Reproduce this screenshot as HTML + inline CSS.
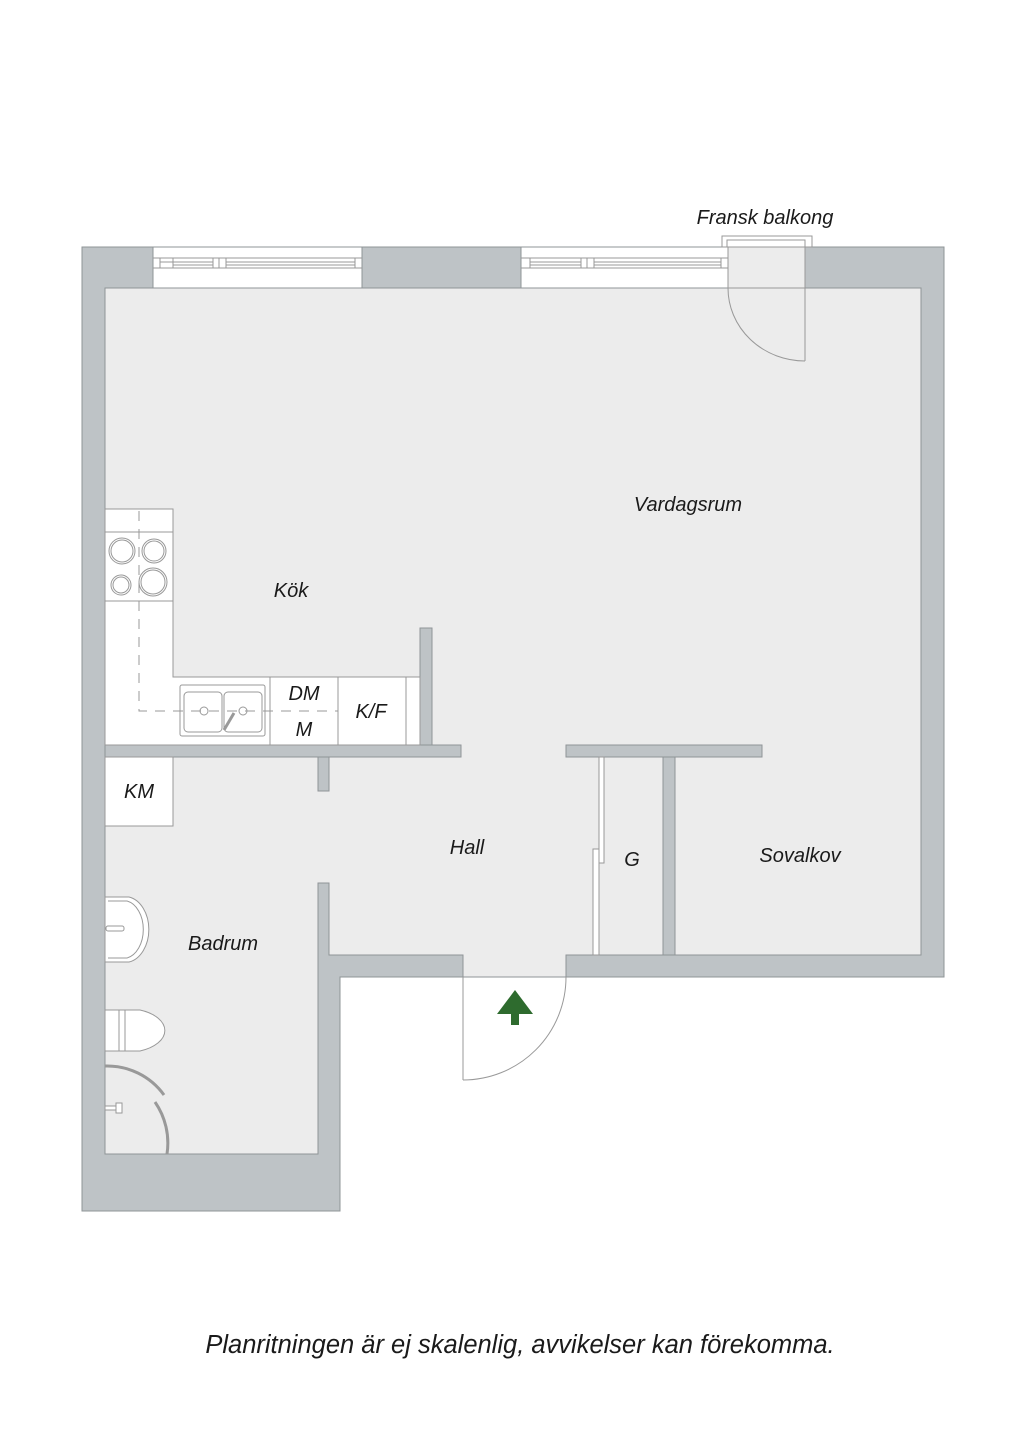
<!DOCTYPE html>
<html><head><meta charset="utf-8"><style>
html,body{margin:0;padding:0;background:#fff;}
svg{display:block;}
text{font-family:"Liberation Sans",sans-serif;font-style:italic;fill:#1a1a1a;}
</style></head><body>
<svg width="1024" height="1448" viewBox="0 0 1024 1448" xmlns="http://www.w3.org/2000/svg">
<g stroke="#8f9497" stroke-width="1">
<polygon points="82,247 944,247 944,977 340,977 340,1211 82,1211" fill="#bec3c6"/>
<polygon points="105,288 921,288 921,955 566,955 566,977 463,977 463,955 329,955 329,883 318,883 318,1154 105,1154" fill="#ececec"/>
<rect x="153" y="247" width="209" height="41" fill="#fff"/>
<rect x="521" y="247" width="207" height="41" fill="#fff"/>
</g>
<g stroke="#999" stroke-width="1" fill="none">
<line x1="153" y1="258" x2="362" y2="258"/><line x1="153" y1="268" x2="362" y2="268"/>
<line x1="160" y1="262" x2="173" y2="262"/><line x1="160" y1="258" x2="160" y2="268"/>
<line x1="173" y1="258" x2="173" y2="268"/><line x1="173" y1="262" x2="213" y2="262"/>
<line x1="173" y1="265" x2="213" y2="265"/><line x1="213" y1="258" x2="213" y2="268"/>
<line x1="219" y1="258" x2="219" y2="268"/><line x1="226" y1="258" x2="226" y2="268"/>
<line x1="226" y1="262" x2="355" y2="262"/><line x1="226" y1="265" x2="355" y2="265"/>
<line x1="355" y1="258" x2="355" y2="268"/>
<line x1="521" y1="258" x2="728" y2="258"/><line x1="521" y1="268" x2="728" y2="268"/>
<line x1="530" y1="258" x2="530" y2="268"/><line x1="530" y1="262" x2="581" y2="262"/>
<line x1="530" y1="265" x2="581" y2="265"/><line x1="581" y1="258" x2="581" y2="268"/>
<line x1="587" y1="258" x2="587" y2="268"/><line x1="594" y1="258" x2="594" y2="268"/>
<line x1="594" y1="262" x2="721" y2="262"/><line x1="594" y1="265" x2="721" y2="265"/>
<line x1="721" y1="258" x2="721" y2="268"/>
<rect x="722" y="236" width="90" height="11" fill="#fff"/>
<polyline points="727,247 727,240 805,240 805,247"/>
</g>
<rect x="728" y="247" width="77" height="41" fill="#ececec" stroke="#999"/>
<line x1="805" y1="247" x2="805" y2="361" stroke="#999"/>
<path d="M728,288 A77,73 0 0 0 805,361" fill="none" stroke="#999"/>
<g fill="#bec3c6" stroke="#8f9497" stroke-width="1">
<rect x="105" y="745" width="356" height="12"/>
<rect x="318" y="757" width="11" height="34"/>
<rect x="420" y="628" width="12" height="117"/>
<rect x="566" y="745" width="196" height="12"/>
<rect x="663" y="757" width="12" height="198"/>
</g>
<g fill="#fff" stroke="#999" stroke-width="1">
<polygon points="105,509 173,509 173,677 420,677 420,745 105,745"/>
<rect x="105" y="757" width="68" height="69"/>
<line x1="105" y1="532" x2="173" y2="532"/>
<line x1="105" y1="601" x2="173" y2="601"/>
<line x1="270" y1="677" x2="270" y2="745"/>
<line x1="338" y1="677" x2="338" y2="745"/>
<line x1="406" y1="677" x2="406" y2="745"/>
<circle cx="122" cy="551" r="13"/><circle cx="122" cy="551" r="11"/>
<circle cx="154" cy="551" r="12"/><circle cx="154" cy="551" r="10"/>
<circle cx="121" cy="585" r="10"/><circle cx="121" cy="585" r="8"/>
<circle cx="153" cy="582" r="14"/><circle cx="153" cy="582" r="12"/>
<rect x="180" y="685" width="85" height="51" rx="2"/>
<rect x="184" y="692" width="38" height="40" rx="4"/>
<rect x="224" y="692" width="38" height="40" rx="4"/>
<circle cx="204" cy="711" r="4"/><circle cx="243" cy="711" r="4"/>
<line x1="224" y1="730" x2="234" y2="713" stroke-width="3"/>
</g>
<path d="M139,511 V711 H338" fill="none" stroke="#999" stroke-dasharray="10,8"/>
<g fill="#fff" stroke="#999">
<rect x="599" y="757" width="5" height="106"/>
<rect x="593" y="849" width="6" height="106"/>
</g>
<g fill="#fff" stroke="#999">
<path d="M105,897 H129 A24,33 0 0 1 129,962 H105 Z"/>
<path d="M108,901 H127 A20,29 0 0 1 127,958 H108" fill="none"/>
<rect x="106" y="926" width="18" height="5" rx="2"/>
<path d="M105,1010 H140 A39,22 0 0 1 140,1051 H105 Z"/>
<line x1="119" y1="1010" x2="119" y2="1051"/><line x1="125" y1="1010" x2="125" y2="1051"/>
<path d="M105,1066 A70,70 0 0 1 164,1095" fill="none" stroke-width="3"/>
<path d="M155,1102 A72,72 0 0 1 167,1154" fill="none" stroke-width="3"/>
<rect x="105" y="1106" width="12" height="4"/>
<rect x="116" y="1103" width="6" height="10"/>
</g>
<line x1="463" y1="977" x2="463" y2="1080" stroke="#999"/>
<path d="M463,1080 A103,103 0 0 0 566,977" fill="none" stroke="#999"/>
<polygon points="515,990 533,1014 497,1014" fill="#2e6b2e"/>
<rect x="511" y="1013" width="8" height="12" fill="#2e6b2e"/>
<text x="765" y="224" font-size="20" text-anchor="middle">Fransk balkong</text>
<text x="688" y="511" font-size="20" text-anchor="middle">Vardagsrum</text>
<text x="291" y="597" font-size="20" text-anchor="middle">Kök</text>
<text x="304" y="700" font-size="20" text-anchor="middle">DM</text>
<text x="304" y="736" font-size="20" text-anchor="middle">M</text>
<text x="371" y="718" font-size="20" text-anchor="middle">K/F</text>
<text x="139" y="798" font-size="20" text-anchor="middle">KM</text>
<text x="467" y="854" font-size="20" text-anchor="middle">Hall</text>
<text x="632" y="866" font-size="20" text-anchor="middle">G</text>
<text x="800" y="862" font-size="20" text-anchor="middle">Sovalkov</text>
<text x="223" y="950" font-size="20" text-anchor="middle">Badrum</text>
<text x="520" y="1353" font-size="25.5" text-anchor="middle">Planritningen är ej skalenlig, avvikelser kan förekomma.</text>
</svg>
</body></html>
